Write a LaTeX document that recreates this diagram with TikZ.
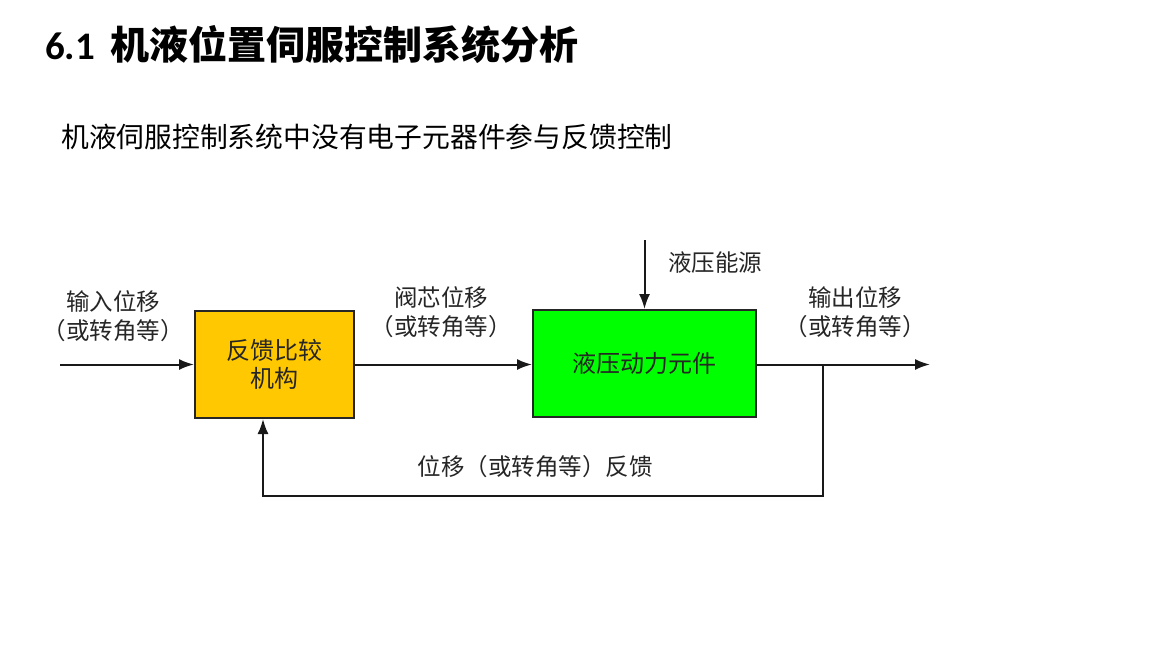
\documentclass[tikz,border=0pt]{standalone}
\usepackage{fontspec}
\setmainfont{Noto Sans CJK SC}
\newfontfamily\digitfont{Carlito}
\usetikzlibrary{arrows.meta}
\definecolor{cmpyellow}{HTML}{FFC800}
\definecolor{actgreen}{HTML}{00FF00}
\definecolor{labelgray}{HTML}{262626}
\begin{document}
\begin{tikzpicture}[x=1pt,y=-1pt,
    blockbox/.style={draw=black!85,line width=2pt,align=center,
      font=\fontsize{24}{28}\selectfont,text=labelgray},
    lbl/.style={align=center,font=\fontsize{23.5}{29}\selectfont,text=labelgray},
    flow/.style={line width=2pt,draw=black!90,
      -{Latex[length=15pt,width=11pt]}}]
  \useasboundingbox (0,0) rectangle (1152,648);
  % heading and subheading
  \node[anchor=west,inner sep=0pt,font=\fontsize{39}{42}\selectfont\bfseries] (title) at (45,45)
    {{\digitfont\bfseries 6.1}\hspace{15pt}机液位置伺服控制系统分析};
  \node[anchor=west,inner sep=0pt,font=\fontsize{27.8}{30}\selectfont] (sub) at (61,137)
    {机液伺服控制系统中没有电子元器件参与反馈控制};
  % blocks
  \node[blockbox,fill=cmpyellow,minimum width=159pt,minimum height=107pt]
    (cmp) at (274.5,364.5) {反馈比较\\机构};
  \node[blockbox,fill=actgreen,minimum width=223pt,minimum height=107pt]
    (act) at (644.5,363.5) {液压动力元件};
  % forward path
  \coordinate (in) at (60,364.5);
  \coordinate (out) at (930,364.5);
  \coordinate (src) at (644.5,240);
  \draw[flow] (in) -- (cmp);
  \draw[flow] (cmp) -- (act.west |- cmp);
  \draw[flow] (act.east |- out) -- (out);
  \draw[flow] (src) -- (act);
  % feedback loop
  \coordinate (tap) at (823,364.5);
  \coordinate (back) at (263,496);
  \draw[flow] (tap) |- (back) -- (back |- cmp.south);
  % signal labels
  \node[lbl] (inlbl) at (113,316) {输入位移\\（或转角等）};
  \node[lbl] (spool) at (441,312) {阀芯位移\\（或转角等）};
  \node[lbl] (power) at (715,263) {液压能源};
  \node[lbl] (outlbl) at (855,312) {输出位移\\（或转角等）};
  \node[lbl] (fb) at (535,467) {位移（或转角等）反馈};
\end{tikzpicture}
\end{document}
